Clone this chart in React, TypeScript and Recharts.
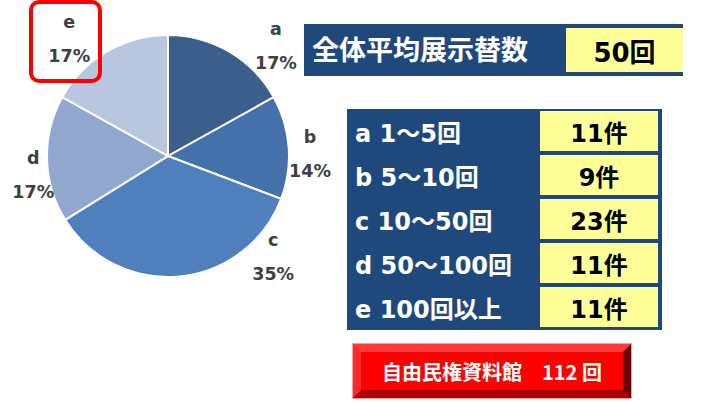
import React from 'react';
import { PieChart, Pie, Cell } from 'recharts';

// data
const categories = ['a', 'b', 'c', 'd', 'e'];
const counts = [11, 9, 23, 11, 11];
const rangeLabels = ['a 1～5回', 'b 5～10回', 'c 10～50回', 'd 50～100回', 'e 100回以上'];
const countUnit = '件';
const avgTitle = '全体平均展示替数';
const avgValue = '50回';
const museumLabel = '自由民権資料館　112 回';

const sliceColors = ['#3b5e8c', '#4471ab', '#4f80bd', '#91a7cf', '#b9c6e0'];
// label placement around the pie: angle (deg, counter-clockwise from 3 o'clock) and distance
const labelSpots = [
  { angle: 45.5, r: 154 },
  { angle: 0.8, r: 142 },
  { angle: -43.9, r: 146 },
  { angle: 188, r: 136 },
  { angle: 130.2, r: 153 },
];

const pieData = categories.map((name, i) => ({ name, value: counts[i] }));

const LATIN = '"DejaVu Sans", "Noto Sans CJK JP", sans-serif';
const CJK = '"Noto Sans CJK JP", "DejaVu Sans", sans-serif';
const BLUE = '#1f497d';
const YELLOW = '#ffff99';

const renderLabel = (props: any) => {
  const { cx, cy, index, percent, name } = props;
  const spot = labelSpots[index];
  const rad = (spot.angle * Math.PI) / 180;
  const x = cx + spot.r * Math.cos(rad);
  const y = cy - spot.r * Math.sin(rad);
  return (
    <g>
      <text x={x} y={y - 17} textAnchor="middle" dominantBaseline="central"
        fill="#404040" fontSize={17.5} fontWeight="bold" fontFamily={LATIN}>
        {name}
      </text>
      <text x={x} y={y + 17} textAnchor="middle" dominantBaseline="central"
        fill="#404040" fontSize={17.5} fontWeight="bold" fontFamily={LATIN}>
        {Math.round(percent * 100)}%
      </text>
    </g>
  );
};

const App: React.FC = () => {
  return (
    <div style={{ position: 'absolute', left: 0, top: 0, width: 706, height: 403, background: '#fff', overflow: 'hidden' }}>
      <div style={{ position: 'absolute', left: 0, top: 0 }}>
        <PieChart width={706} height={403} margin={{ top: 0, right: 0, bottom: 0, left: 0 }}>
          <Pie
            data={pieData}
            dataKey="value"
            nameKey="name"
            cx={168}
            cy={156}
            outerRadius={121}
            startAngle={90}
            endAngle={-270}
            stroke="#ffffff"
            strokeWidth={2}
            label={renderLabel}
            labelLine={false}
            isAnimationActive={false}
          >
            {pieData.map((d, i) => (
              <Cell key={d.name} fill={sliceColors[i]} />
            ))}
          </Pie>
        </PieChart>
      </div>

      {/* red highlight around label e */}
      <div style={{ position: 'absolute', left: 29, top: 0, width: 65, height: 75, border: '4px solid #ff0000', borderRadius: 10 }} />

      {/* overall average */}
      <div style={{ position: 'absolute', left: 304, top: 24, width: 379, height: 52, background: BLUE }}>
        <div style={{ position: 'absolute', left: 8, top: 0, height: 48, display: 'flex', alignItems: 'center', color: '#fff', fontFamily: CJK, fontWeight: 700, fontSize: 27 }}>
          {avgTitle}
        </div>
        <div style={{ position: 'absolute', left: 262, top: 4, width: 117, height: 44, background: YELLOW, display: 'flex', alignItems: 'center', justifyContent: 'center', fontFamily: LATIN, fontWeight: 700, fontSize: 26, color: '#000' }}>
          {avgValue}
        </div>
      </div>

      {/* breakdown table */}
      <div style={{ position: 'absolute', left: 347, top: 109, width: 315, height: 221, background: BLUE }}>
        {rangeLabels.map((lbl, i) => (
          <React.Fragment key={lbl}>
            <div style={{ position: 'absolute', left: 8, top: 2 + i * 44, height: 40, display: 'flex', alignItems: 'center', color: '#fff', fontFamily: LATIN, fontWeight: 700, fontSize: 24, whiteSpace: 'nowrap' }}>
              {lbl}
            </div>
            <div style={{ position: 'absolute', left: 193, top: 2 + i * 44, width: 118, height: 40, background: YELLOW, display: 'flex', alignItems: 'center', justifyContent: 'center', color: '#000', fontFamily: LATIN, fontWeight: 700, fontSize: 24 }}>
              {counts[i]}{countUnit}
            </div>
          </React.Fragment>
        ))}
      </div>

      {/* museum button */}
      <div style={{
        position: 'absolute', left: 353, top: 344, width: 278, height: 54, boxSizing: 'border-box',
        background: '#ff0000', borderStyle: 'solid', borderWidth: 8,
        borderTopColor: '#ff3a3a', borderLeftColor: '#ff2a2a', borderRightColor: '#6a0000', borderBottomColor: '#b00000',
        outline: '1px solid #f3a0a0',
        display: 'flex', alignItems: 'center', justifyContent: 'center',
        color: '#fff', fontFamily: CJK, fontWeight: 700, fontSize: 20, whiteSpace: 'nowrap',
      }}>
        {museumLabel}
      </div>
    </div>
  );
};

export default App;
